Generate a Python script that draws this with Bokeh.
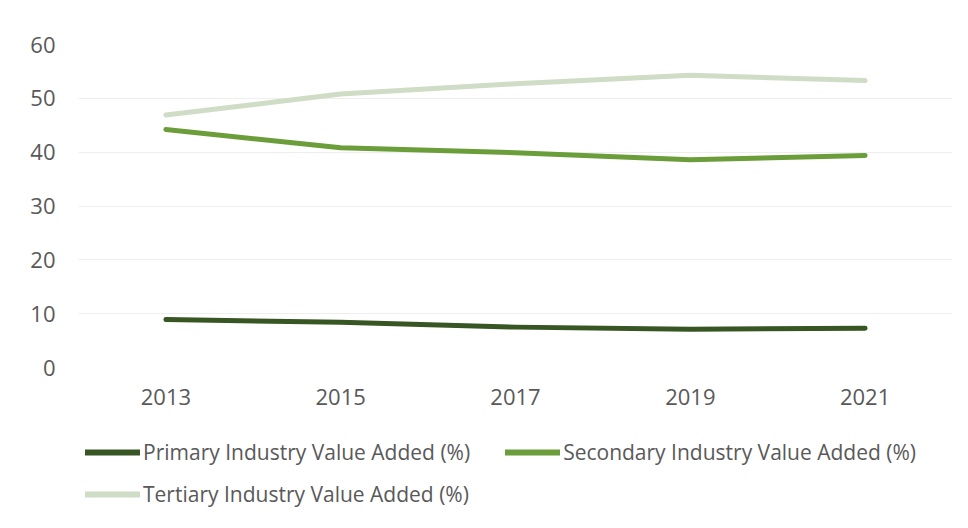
from bokeh.plotting import figure
from bokeh.models import Range1d, Legend, LegendItem
from bokeh.layouts import column
from bokeh.embed import file_html
from bokeh.resources import INLINE

years = ["2013", "2015", "2017", "2019", "2021"]
primary = [8.9, 8.4, 7.5, 7.1, 7.3]
secondary = [44.2, 40.8, 39.9, 38.6, 39.4]
tertiary = [46.9, 50.8, 52.7, 54.3, 53.3]
yticks = [0, 10, 20, 30, 40, 50, 60]
series_names = ["Primary Industry Value Added (%)",
                "Secondary Industry Value Added (%)",
                "Tertiary Industry Value Added (%)"]
colors = ["#375623", "#6b9e3a", "#cfdcc6"]

FONT = "Open Sans"
TXT = "#595959"
series = [primary, secondary, tertiary]

# main chart
p = figure(x_range=years, y_range=Range1d(0, 60), width=952, height=420,
           output_backend="svg", toolbar_location=None,
           min_border_left=78, min_border_right=0, min_border_top=44, min_border_bottom=53)
p.outline_line_color = None
p.background_fill_color = "white"
p.border_fill_color = "white"

for vals, c in zip(series, colors):
    p.line(years, vals, line_color=c, line_width=5, line_cap="round", line_join="round")

p.yaxis.ticker = yticks
p.xgrid.grid_line_color = None
p.ygrid.grid_line_color = "#eeeeee"
p.ygrid.grid_line_width = 1
for ax in (p.xaxis[0], p.yaxis[0]):
    ax.axis_line_color = None
    ax.major_tick_line_color = None
    ax.minor_tick_line_color = None
    ax.major_label_text_font = FONT
    ax.major_label_text_font_size = "22px"
    ax.major_label_text_color = TXT
p.yaxis.major_label_standoff = 17
p.xaxis.major_label_standoff = 15

# legend strip: same series drawn outside its visible y range, so only the legend shows
lp = figure(x_range=years, y_range=Range1d(100, 200), width=952, height=92,
            output_backend="svg", toolbar_location=None,
            x_axis_location=None, y_axis_location=None,
            min_border_left=0, min_border_right=0, min_border_top=0, min_border_bottom=0)
lp.outline_line_color = None
lp.grid.visible = False
lp.border_fill_color = "white"
lp.background_fill_color = "white"
lrs = [lp.line(years, vals, line_color=c, line_width=6, line_cap="round")
       for vals, c in zip(series, colors)]


def make_legend(items, loc):
    lg = Legend(items=items, location=loc, orientation="horizontal")
    lg.label_text_font = FONT
    lg.label_text_font_size = "21px"
    lg.label_text_color = TXT
    lg.glyph_width = 55
    lg.glyph_height = 28
    lg.label_height = 28
    lg.label_standoff = 3
    lg.spacing = 35
    lg.padding = 0
    lg.margin = 0
    lg.border_line_color = None
    lg.background_fill_alpha = 0
    return lg


legend1 = make_legend([LegendItem(label=series_names[0], renderers=[lrs[0]]),
                       LegendItem(label=series_names[1], renderers=[lrs[1]])], (7, 46))
legend2 = make_legend([LegendItem(label=series_names[2], renderers=[lrs[2]])], (7, 4))
lp.add_layout(legend1, "center")
lp.add_layout(legend2, "center")

layout = column(p, lp, spacing=0)
open("out.html", "w").write(file_html(layout, INLINE))
